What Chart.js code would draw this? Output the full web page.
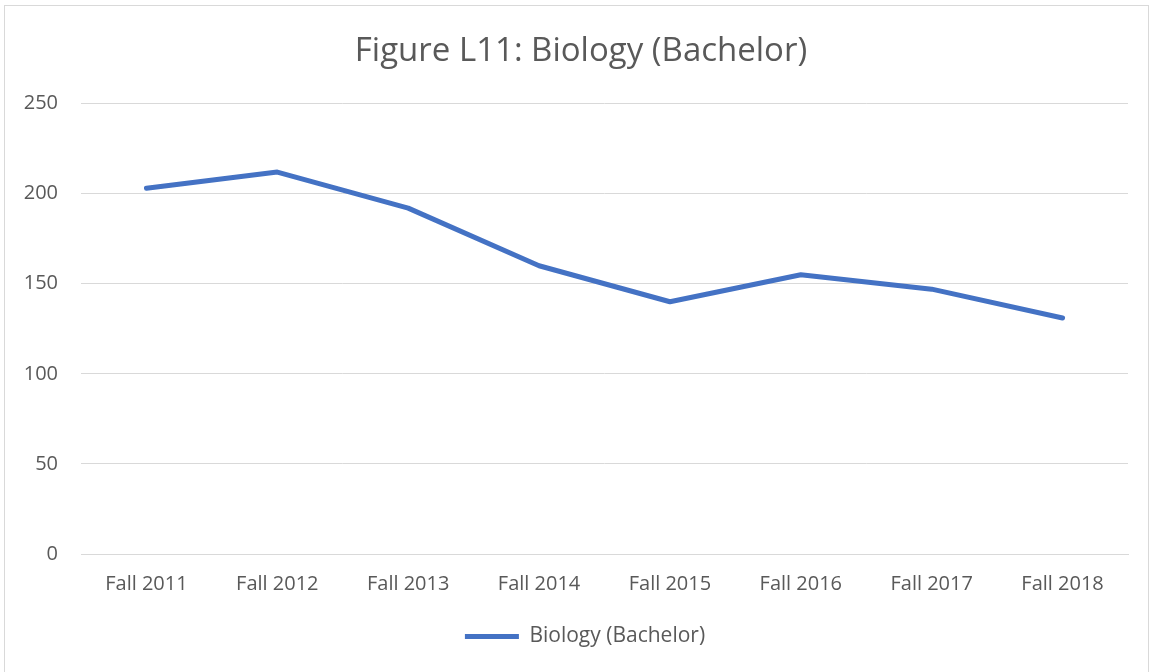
<!DOCTYPE html>
<html>
<head>
<meta charset="utf-8">
<script src="https://cdn.jsdelivr.net/npm/chart.js@4"></script>
<style>
  html, body { margin: 0; padding: 0; background: #fff; overflow: hidden; }
  #wrap { position: absolute; left: 0; top: 0; width: 1149px; height: 672px; }
  #frame { position: absolute; left: 4px; top: 5px; width: 1143px; height: 700px; border: 1px solid #d9d9d9; pointer-events: none; }
</style>
</head>
<body>
<div id="wrap"><canvas id="lineChart" width="1149" height="672"></canvas></div>
<div id="frame"></div>
<script>
// Data
const categories = ['Fall 2011', 'Fall 2012', 'Fall 2013', 'Fall 2014', 'Fall 2015', 'Fall 2016', 'Fall 2017', 'Fall 2018'];
const biologyValues = [203, 212, 192, 160, 140, 155, 147, 131];
const seriesLabel = 'Biology (Bachelor)';
const chartTitle = 'Figure L11: Biology (Bachelor)';

const textColor = '#595959';
const gridColor = '#d9d9d9';
const lineColor = '#4472C4';
const fontFamily = "'Open Sans', 'Noto Sans', sans-serif";

const ctx = document.getElementById('lineChart').getContext('2d');

// nudge title and legend so they sit centred under the whole frame, not just the plot
const centreShift = {
  id: 'centreShift',
  afterLayout: function (c) {
    c.legend.left += 21;
    c.legend.right += 21;
    c.titleBlock.left += 17;
    c.titleBlock.right += 17;
  }
};

const chart = new Chart(ctx, {
  type: 'line',
  data: {
    labels: categories,
    datasets: [{
      label: seriesLabel,
      data: biologyValues,
      borderColor: lineColor,
      backgroundColor: lineColor,
      borderWidth: 5,
      borderCapStyle: 'round',
      borderJoinStyle: 'round',
      pointRadius: 0,
      tension: 0,
      fill: false
    }]
  },
  plugins: [centreShift],
  options: {
    responsive: false,
    animation: false,
    layout: {
      padding: { left: 0, right: 21, top: 0, bottom: 15 }
    },
    plugins: {
      title: {
        display: true,
        text: chartTitle,
        color: textColor,
        font: { family: fontFamily, size: 33, weight: 'normal' },
        padding: { top: 32, bottom: 32 }
      },
      legend: {
        position: 'bottom',
        labels: {
          color: textColor,
          font: { family: fontFamily, size: 21 },
          boxWidth: 54,
          boxHeight: 5,
          generateLabels: function (c) {
            return c.data.datasets.map(function (ds, i) {
              return {
                text: ds.label,
                fillStyle: ds.borderColor,
                strokeStyle: ds.borderColor,
                lineWidth: 0,
                fontColor: textColor,
                datasetIndex: i,
                hidden: false
              };
            });
          }
        }
      },
      tooltip: { enabled: false }
    },
    scales: {
      x: {
        offset: true,
        grid: { display: false, drawTicks: false },
        border: { display: true, color: gridColor, width: 1 },
        ticks: {
          color: textColor,
          font: { family: fontFamily, size: 20 },
          padding: 18,
          maxRotation: 0
        },
        afterFit: function (scale) { scale.height = 62; }
      },
      y: {
        min: 0,
        max: 250,
        ticks: {
          stepSize: 50,
          color: textColor,
          font: { family: fontFamily, size: 20 },
          padding: 23
        },
        grid: { color: gridColor, lineWidth: 1, drawTicks: false },
        border: { display: false },
        afterFit: function (scale) { scale.width = 81; }
      }
    }
  }
});
</script>
</body>
</html>
